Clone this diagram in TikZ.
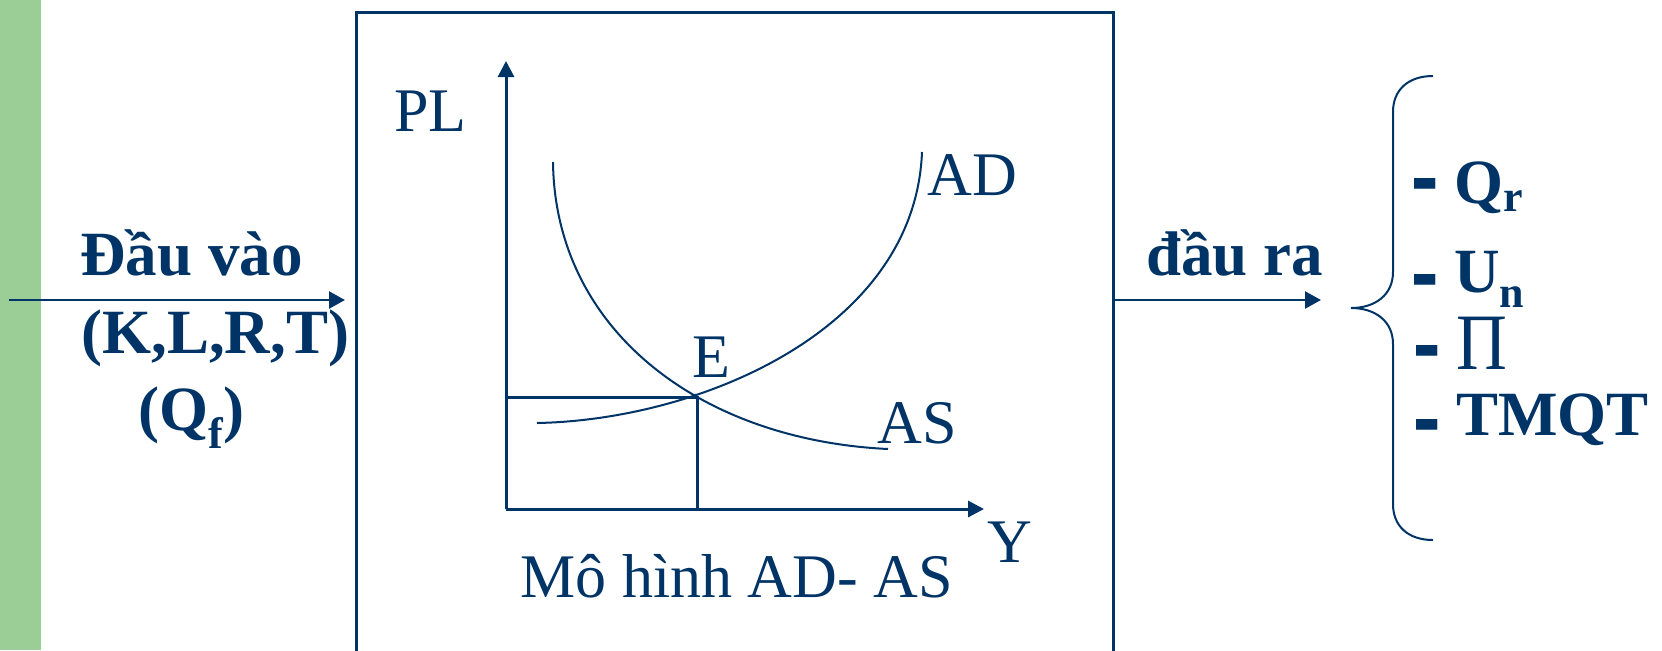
\documentclass[tikz,border=0pt]{standalone}
\usepackage{fontspec}
\usepackage{graphicx}
\setmainfont{Liberation Serif}
\usetikzlibrary{arrows.meta}
\definecolor{navy}{RGB}{0,51,102}
\definecolor{barg}{RGB}{155,205,150}
\newcommand\lowsub[2]{\smash{\raisebox{-#1}{\fontsize{22}{22}\selectfont #2}}}
\newcommand\thickdash[1]{\smash{\raisebox{#1}{\scalebox{1.3}[2]{-}}}}
\begin{document}
\begin{tikzpicture}[x=0.5pt,y=-0.5pt,
  lbl/.style={inner sep=0pt,anchor=base west,text=navy,font=\fontsize{31}{36}\selectfont},
  blbl/.style={inner sep=0pt,anchor=base west,text=navy,font=\fontsize{31.5}{36}\selectfont\bfseries},
  arr/.style={draw=navy,line width=1.2pt,-{Triangle[length=8pt,width=8.5pt]}},
  axisline/.style={draw=navy,line width=1.5pt,-{Triangle[length=8pt,width=8pt]}},
  curveline/.style={draw=navy,line width=1pt},
  guide/.style={draw=navy,line width=1.5pt},
  frame/.style={draw=navy,line width=1.5pt},
  bracel/.style={draw=navy,line width=1pt}]
\useasboundingbox (0,0) rectangle (1662,650);
% green bar
\fill[barg] (0,0) rectangle (41,650);
% central frame (open at the bottom)
\coordinate (fbl) at (356,652);
\coordinate (ftl) at (356,12);
\coordinate (ftr) at (1113,12);
\coordinate (fbr) at (1113,652);
\draw[frame] (fbl) -- (ftl) -- (ftr) -- (fbr);
% input arrow and texts
\coordinate (inA) at (9,300);
\coordinate (inB) at (345,300);
\draw[arr] (inA) -- (inB);
\node[blbl] (in1) at (80,275) {Đầu vào};
\node[blbl] (in2) at (81,353) {(K,L,R,T)};
\node[blbl] (in3) at (138,430) {(Q\lowsub{9pt}{f})};
% axes
\coordinate (O) at (506,509);
\coordinate (ytop) at (506,61);
\coordinate (xend) at (984,509);
\draw[axisline] (O) -- (ytop);
\draw[axisline] (O) -- (xend);
\node[lbl] (pl) at (394,131) {PL};
\node[lbl] (ylab) at (987,562) {Y};
% equilibrium
\coordinate (E) at (697,397);
\coordinate (Ey) at (506,397);
\coordinate (Ex) at (697,509);
\draw[guide] (Ey) -- (E) -- (Ex);
% curves
\coordinate (as0) at (553,162);
\coordinate (as1) at (888,449);
\coordinate (ad0) at (537,423);
\coordinate (ad1) at (922,152);
\draw[curveline] (as0) .. controls (555,330) and (700,440) .. (as1);
\draw[curveline] (ad0) .. controls (700,420) and (915,330) .. (ad1);
\node[lbl] (elab) at (692,377) {E};
\node[lbl] (adlab) at (927,195) {AD};
\node[lbl] (aslab) at (877,443) {AS};
\node[lbl] (cap) at (520,597) {Mô hình AD- AS};
% output arrow
\coordinate (outA) at (1113,300);
\coordinate (outB) at (1321,300);
\draw[arr] (outA) -- (outB);
\node[blbl] (outlab) at (1146,275) {đầu ra};
% brace
\coordinate (btop) at (1433,76);
\coordinate (btip) at (1351,308);
\coordinate (bbot) at (1433,540);
\draw[bracel] (btop) .. controls (1408,76) and (1393,90) .. (1393,112)
  -- (1393,272) .. controls (1393,295) and (1375,308) .. (btip)
  .. controls (1375,308) and (1393,321) .. (1393,344)
  -- (1393,504) .. controls (1393,526) and (1408,540) .. (bbot);
% output items
\node[blbl] (it1) at (1411,203) {\thickdash{-5pt} Q\lowsub{4pt}{r}};
\node[blbl] (it2) at (1411,292) {\thickdash{-8.5pt} U\lowsub{7.5pt}{n}};
\node[blbl] (it3) at (1413,369) {\thickdash{-5.5pt} \mdseries\smash{\scalebox{0.88}[1]{\fontsize{40}{44}\selectfont Π}}};
\node[blbl] (it4) at (1413,435) {\thickdash{-9.5pt} TMQT};
\end{tikzpicture}
\end{document}
